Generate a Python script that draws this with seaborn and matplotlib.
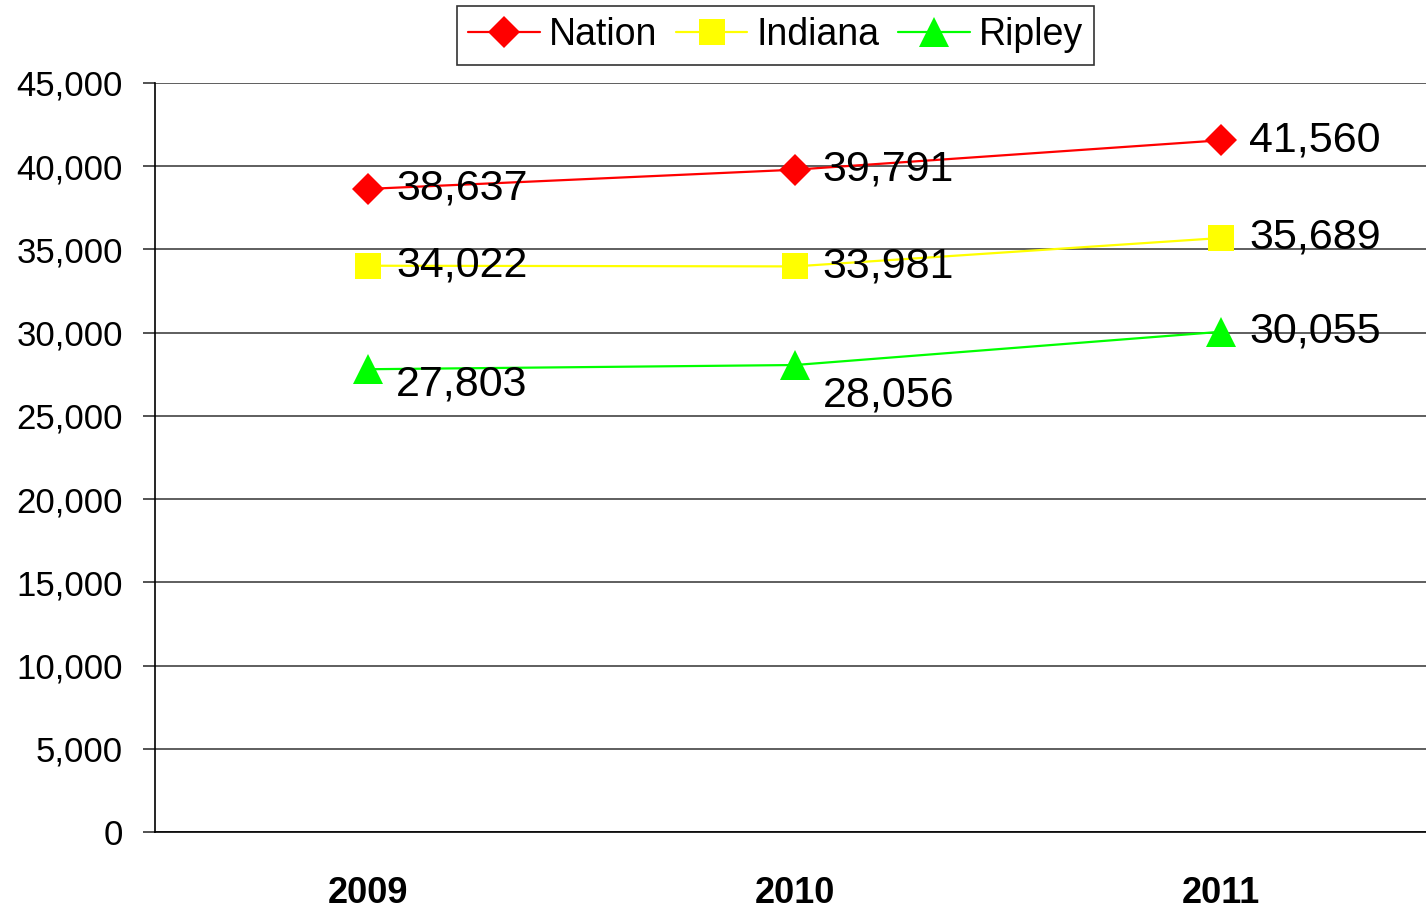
import pandas as pd
import seaborn as sns
import matplotlib.pyplot as plt
from matplotlib.ticker import FuncFormatter

years = ['2009', '2010', '2011']
nation = [38637, 39791, 41560]
indiana = [34022, 33981, 35689]
ripley = [27803, 28056, 30055]
series_names = ['Nation', 'Indiana', 'Ripley']
colors = {'Nation': '#FF0000', 'Indiana': '#FFFF00', 'Ripley': '#00FF00'}
markers = {'Nation': 'D', 'Indiana': 's', 'Ripley': '^'}

sns.set_style('white')
plt.rcParams['font.family'] = ['Liberation Sans', 'DejaVu Sans']
plt.rcParams['text.color'] = 'black'
plt.rcParams['xtick.color'] = 'black'
plt.rcParams['ytick.color'] = 'black'

rows = []
for name, vals in zip(series_names, [nation, indiana, ripley]):
    for i, (yr, v) in enumerate(zip(years, vals)):
        rows.append({'pos': i, 'year': yr, 'value': v, 'series': name})
df = pd.DataFrame(rows)

fig = plt.figure(figsize=(14.26, 9.10), dpi=100)
ax = fig.add_axes([0.1087, 0.0857, 0.8913, 0.8231])

sns.lineplot(data=df, x='pos', y='value', hue='series', style='series',
             hue_order=series_names, style_order=series_names,
             palette=colors, markers=markers, dashes=False,
             markersize=19, markeredgewidth=0, linewidth=1.6,
             legend=False, ax=ax, zorder=3)
# per-marker sizes to match the original
for line, ms in zip(ax.lines[:3], [16, 19, 21]):
    line.set_markersize(ms)

# data labels (offsets in points, label right of marker)
label_dy = {'Nation': [0, 0, 0], 'Indiana': [0, 0, 0], 'Ripley': [-11, -22, 0]}
for name in series_names:
    sub = df[df.series == name]
    for k, (_, r) in enumerate(sub.iterrows()):
        ax.annotate(f"{r['value']:,}", (r['pos'], r['value']),
                    xytext=(20, label_dy[name][k]), textcoords='offset points',
                    ha='left', va='center', fontsize=31, color='black', zorder=4)

ax.set_xlim(-0.5, 2.48)
ax.set_ylim(0, 45000)
ax.set_yticks(range(0, 45001, 5000))
ax.yaxis.set_major_formatter(FuncFormatter(lambda v, p: f"{v:,.0f}"))
ax.set_xticks([0, 1, 2], years)
ax.set_xticks([-0.5, 0.5, 1.5], minor=True)
ax.tick_params(axis='x', which='major', length=0, pad=32, labelsize=26)
for t in ax.get_xticklabels():
    t.set_fontweight('bold')
ax.tick_params(axis='x', which='minor', length=8, width=1.2, color='#333333', direction='out')
ax.tick_params(axis='y', which='major', length=9, width=1.2, color='#333333',
               direction='out', left=True, pad=14, labelsize=25)
ax.set_xlabel('')
ax.set_ylabel('')

ax.yaxis.grid(True, color='#333333', linewidth=1.1, zorder=1)
ax.xaxis.grid(False)
ax.set_axisbelow(True)
for s in ['top', 'right']:
    ax.spines[s].set_visible(False)
ax.spines['left'].set_color('black')
ax.spines['left'].set_linewidth(1.2)
ax.spines['bottom'].set_color('black')
ax.spines['bottom'].set_linewidth(1.2)

leg = fig.legend(ax.lines[:3], series_names, loc='upper center',
                 bbox_to_anchor=(0.544, 0.9934), ncol=3, fontsize=27,
                 frameon=True, fancybox=False, edgecolor='black',
                 handlelength=1.9, handletextpad=0.25, columnspacing=0.5,
                 borderpad=0.3, borderaxespad=0)
leg.get_frame().set_linewidth(1.2)

fig.savefig('out.png', dpi=100)
